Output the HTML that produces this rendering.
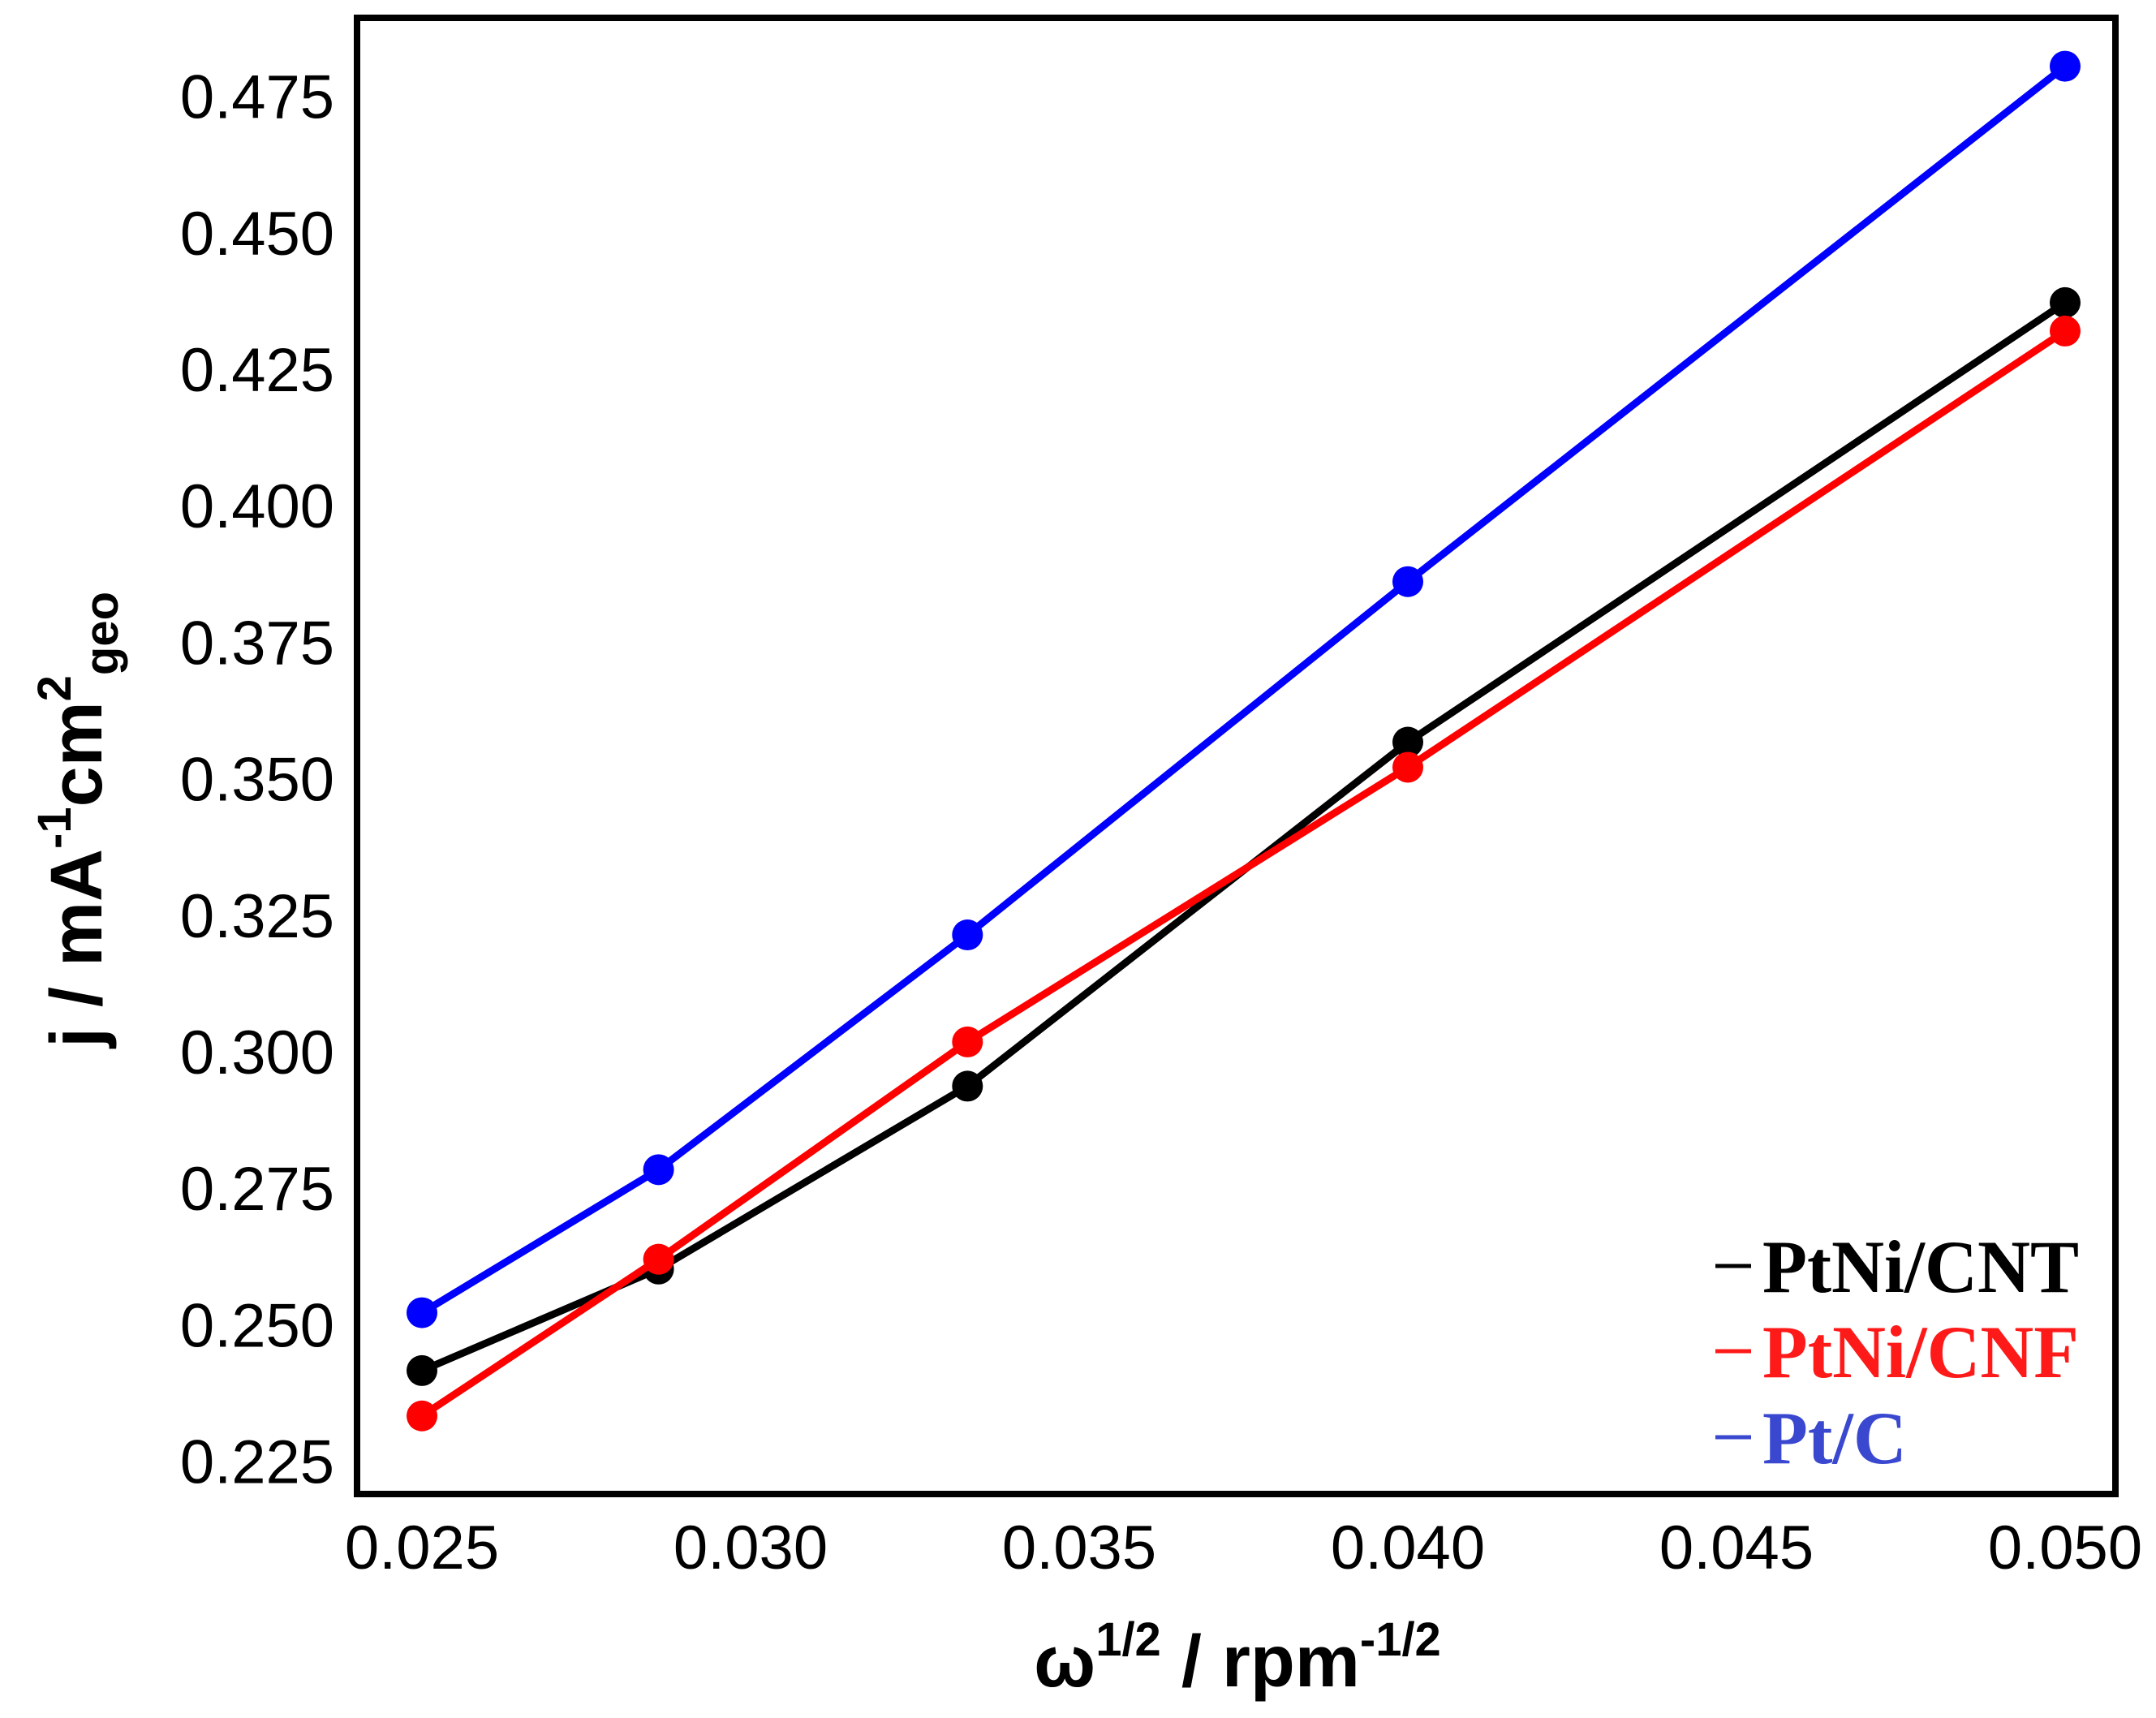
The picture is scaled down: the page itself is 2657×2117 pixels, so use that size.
<!DOCTYPE html>
<html><head><meta charset="utf-8"><style>
html,body{margin:0;padding:0;background:#fff;}
svg{display:block;}
</style></head><body>
<svg id="chart" width="2657" height="2117" viewBox="0 0 2657 2117" xmlns="http://www.w3.org/2000/svg">
<rect x="0" y="0" width="2657" height="2117" fill="#fff"/>
<g id="plot"></g>
<rect x="440" y="22" width="2167" height="1819" fill="none" stroke="#000" stroke-width="8"/>
<g id="ticks" font-family="Liberation Sans, Arial, sans-serif" font-size="76" fill="#000"></g>
<text x="1525" y="2078" text-anchor="middle" font-family="Liberation Sans, Arial, sans-serif" font-weight="bold" font-size="90">ω<tspan font-size="58" dy="-38">1/2</tspan><tspan dy="38"> / rpm</tspan><tspan font-size="58" dy="-38">-1/2</tspan></text>
<text transform="translate(125,1010) rotate(-90)" text-anchor="middle" font-family="Liberation Sans, Arial, sans-serif" font-weight="bold" font-size="90">j / mA<tspan font-size="58" dy="-38">-1</tspan><tspan dy="38">cm</tspan><tspan font-size="58" dy="-38">2</tspan><tspan font-size="58" dy="58">geo</tspan></text>
<g id="legend" font-family="Liberation Serif, Times New Roman, serif" font-weight="bold" font-size="92"></g>
</svg>
<script>
const xValues = [0.025, 0.0286, 0.0333, 0.040, 0.050];
const seriesNames = ['PtNi/CNT', 'PtNi/CNF', 'Pt/C'];
const seriesColors = ['#000000', '#ff0000', '#0000ff'];
const legendColors = ['#000000', '#ff1a1a', '#3a48d0'];
const cntValues = [0.2416, 0.2602, 0.2937, 0.3567, 0.4372];
const cnfValues = [0.2333, 0.2620, 0.3018, 0.3521, 0.4320];
const ptcValues = [0.2522, 0.2784, 0.3214, 0.3861, 0.4805];
const xTicks = [0.025, 0.030, 0.035, 0.040, 0.045, 0.050];
const xTickLabels = ['0.025', '0.030', '0.035', '0.040', '0.045', '0.050'];
const yTicks = [0.225, 0.250, 0.275, 0.300, 0.325, 0.350, 0.375, 0.400, 0.425, 0.450, 0.475];
const yTickLabels = ['0.225', '0.250', '0.275', '0.300', '0.325', '0.350', '0.375', '0.400', '0.425', '0.450', '0.475'];

const NS = 'http://www.w3.org/2000/svg';
function xScale(v){ return 520 + (v - 0.025) / 0.025 * 2025; }
function yScale(v){ return 118.6 + (0.475 - v) / 0.25 * 1682; }

const plot = document.getElementById('plot');
const allSeries = [cntValues, cnfValues, ptcValues];
const keys = ['cnt', 'cnf', 'ptc'];
allSeries.forEach((vals, si) => {
  const g = document.createElementNS(NS, 'g');
  
  
  const pl = document.createElementNS(NS, 'polyline');
  pl.setAttribute('points', vals.map((v, i) => xScale(xValues[i]) + ',' + yScale(v)).join(' '));
  pl.setAttribute('fill', 'none');
  pl.setAttribute('stroke', seriesColors[si]);
  pl.setAttribute('stroke-width', '9');
  
  
  g.appendChild(pl);
  vals.forEach((v, i) => {
    const c = document.createElementNS(NS, 'circle');
    c.setAttribute('cx', xScale(xValues[i]));
    c.setAttribute('cy', yScale(v));
    c.setAttribute('r', '19');
    c.setAttribute('fill', seriesColors[si]);
    
    
    g.appendChild(c);
  });
  plot.appendChild(g);
});

const ticks = document.getElementById('ticks');
xTicks.forEach((v, i) => {
  const t = document.createElementNS(NS, 'text');
  t.setAttribute('x', xScale(v));
  t.setAttribute('y', 1933);
  t.setAttribute('text-anchor', 'middle');
  t.textContent = xTickLabels[i];
  
  
  ticks.appendChild(t);
});
yTicks.forEach((v, i) => {
  const t = document.createElementNS(NS, 'text');
  t.setAttribute('x', 412);
  t.setAttribute('y', yScale(v) + 27);
  t.setAttribute('text-anchor', 'end');
  t.textContent = yTickLabels[i];
  
  
  ticks.appendChild(t);
});

const legend = document.getElementById('legend');
const baselines = [1592, 1697, 1803];
seriesNames.forEach((name, i) => {
  const ln = document.createElementNS(NS, 'line');
  ln.setAttribute('x1', 2114); ln.setAttribute('x2', 2158);
  ln.setAttribute('y1', baselines[i] - 32); ln.setAttribute('y2', baselines[i] - 32);
  ln.setAttribute('stroke', legendColors[i]); ln.setAttribute('stroke-width', '5');
  
  
  legend.appendChild(ln);
  const t = document.createElementNS(NS, 'text');
  t.setAttribute('x', 2172);
  t.setAttribute('y', baselines[i]);
  t.setAttribute('fill', legendColors[i]);
  t.setAttribute('textLength', name === 'Pt/C' ? 178 : 390);
  t.setAttribute('lengthAdjust', 'spacingAndGlyphs');
  t.textContent = name;
  
  
  legend.appendChild(t);
});
</script>
</body></html>
